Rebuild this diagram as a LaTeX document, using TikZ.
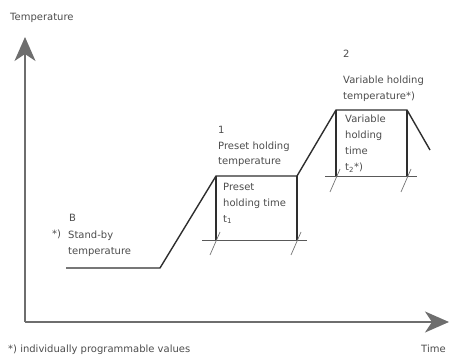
\documentclass[tikz,border=0pt]{standalone}
\usepackage{fontspec}
\setmainfont{DejaVu Sans}
\usetikzlibrary{arrows.meta,positioning}
\definecolor{axisgray}{HTML}{6E6E6E}
\definecolor{curvegray}{HTML}{2E2E2E}
\tikzset{
  lbl/.style={font=\fontsize{10}{16}\selectfont,text=black!70,inner sep=0pt,anchor=base west,align=left},
  axis/.style={axisgray,line width=1.8pt,-{Stealth[length=24pt,width=21pt,inset=7pt]}},
  profile/.style={curvegray,line width=1.4pt,line join=round},
  hold/.style={curvegray,line width=1.4pt},
  hatch/.style={black!55,line width=0.7pt}
}

\begin{document}
\begin{tikzpicture}[x=1pt,y=-1pt]
  \useasboundingbox (0,0) rectangle (452,358);
  % axes
  \coordinate (origin) at (25,322);
  \coordinate (ytip) at (25,37);
  \coordinate (xtip) at (449,322);
  \draw[axis] (origin) -- (ytip);
  \draw[axis] (origin) -- (xtip);
  \node[lbl] (tlabel) at (10,21) {Temperature};
  \node[lbl] (timelabel) at (421,352) {Time};
  % temperature profile
  \coordinate (sb0) at (66,268);
  \coordinate (sb1) at (160,268);
  \coordinate (ph0) at (216,176);
  \coordinate (ph1) at (297,176);
  \coordinate (vh0) at (336,110);
  \coordinate (vh1) at (407,110);
  \coordinate (cool) at (430,150);
  \draw[profile] (sb0) -- (sb1) -- (ph0) -- (ph1) -- (vh0) -- (vh1) -- (cool);
  % holding time brackets
  \coordinate (pb0) at (216,240);
  \coordinate (pb1) at (297,240);
  \coordinate (vb0) at (336,177);
  \coordinate (vb1) at (407,177);
  \draw[hold] (ph0) -- (pb0);
  \draw[hold] (ph1) -- (pb1);
  \draw[hold] (vh0) -- (vb0);
  \draw[hold] (vh1) -- (vb1);
  \draw[black!65,line width=1pt] ([xshift=-14pt]pb0) -- ([xshift=10pt]pb1);
  \draw[black!65,line width=1pt] ([xshift=-11pt]vb0) -- ([xshift=10pt]vb1);
  \foreach \p in {pb0,pb1,vb0,vb1}
    \draw[hatch] ([shift={(4,-8)}]\p) -- ([shift={(-6,15)}]\p);
  % labels (base = last line)
  \node[lbl] (sbnum) at (69,221) {B};
  \node[lbl] (sbstar) at (52,237) {*)};
  \node[lbl] (sbtext) at (68,254) {Stand-by\\temperature};
  \node[lbl] (phnum) at (218,134) {1};
  \node[lbl] (phtext) at (218,165) {Preset holding\\temperature};
  \node[lbl] (pttext) at (223,222) {Preset\\holding time\\t\textsubscript{1}};
  \node[lbl] (vhnum) at (343,58) {2};
  \node[lbl] (vhtext) at (343,100) {Variable holding\\temperature*)};
  \node[lbl] (vttext) at (345,171) {Variable\\holding\\time\\t\textsubscript{2}*)};
  \node[lbl] (note) at (8,352) {*) individually programmable values};
\end{tikzpicture}
\end{document}
